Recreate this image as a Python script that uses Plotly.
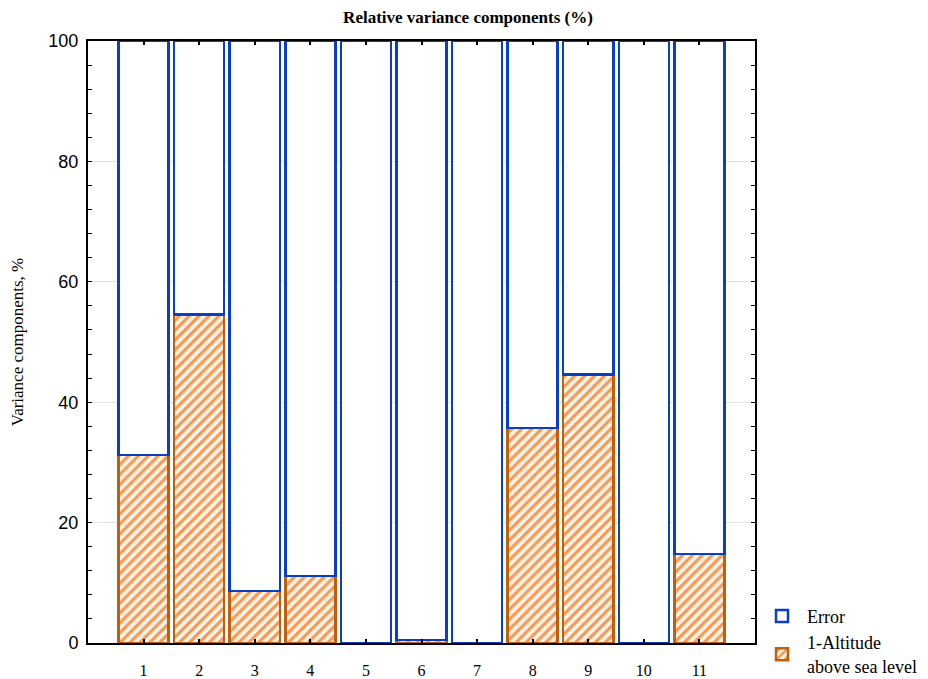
import plotly.graph_objects as go

categories = [1, 2, 3, 4, 5, 6, 7, 8, 9, 10, 11]
tick_labels = ["1", "2", "3", "4", "5", "6", "7", "8", "9", "10", "11"]
altitude = [31.2, 54.6, 8.6, 11.1, 0.0, 0.5, 0.0, 35.7, 44.6, 0.0, 14.8]
error = [100 - v for v in altitude]

BLUE = "#0A3FC4"
ORANGE = "#C0600E"

fig = go.Figure()
fig.add_trace(go.Bar(
    x=categories, y=altitude, name="1-Altitude<br>above sea level",
    width=0.9,
    marker=dict(color="#FDE6D2", line=dict(color=ORANGE, width=2.5),
                pattern=dict(shape="/", fgcolor="#F29A55", bgcolor="#FFF3E8",
                             size=7, solidity=0.45, fillmode="replace")),
))
fig.add_trace(go.Bar(
    x=categories, y=error, name="Error",
    width=0.9,
    marker=dict(color="white", line=dict(color=BLUE, width=2.5)),
))

fig.update_layout(
    barmode="stack",
    width=920, height=671,
    margin=dict(l=80, r=173, t=33, b=36, autoexpand=False),
    paper_bgcolor="white", plot_bgcolor="white",
    title=dict(text="<b>Relative variance components (%)</b>", x=0.5, xanchor="center",
               y=0.987, yanchor="middle", automargin=False,
               font=dict(family="Liberation Serif", size=17, color="black")),
    showlegend=True,
    legend=dict(x=1.003, xanchor="left", y=0.075, yanchor="top",
                traceorder="reversed",
                font=dict(family="Liberation Serif", size=18, color="black"),
                bgcolor="rgba(0,0,0,0)", itemwidth=40, tracegroupgap=2),
    bargap=0.1,
)
fig.update_xaxes(
    range=[0, 12], tickvals=categories, ticktext=tick_labels, automargin=False,
    showline=True, linecolor="black", linewidth=2, mirror="ticks",
    ticks="inside", ticklen=4, tickwidth=2, tickcolor="black",
    showgrid=False, zeroline=False,
    tickfont=dict(family="Liberation Serif", size=16, color="black"),
    ticklabelstandoff=12,
)
fig.update_yaxes(
    range=[0, 100], tickvals=[0, 20, 40, 60, 80, 100], automargin=False,
    showline=True, linecolor="black", linewidth=2, mirror="allticks",
    ticks="inside", ticklen=4, tickwidth=1, tickcolor="black",
    showgrid=True, gridcolor="#E3E3E3", gridwidth=1, zeroline=False,
    tickfont=dict(family="Liberation Sans", size=18, color="black"),
    minor=dict(tickvals=[v for v in range(0, 101, 4) if v % 20 != 0], ticks="inside",
               ticklen=4, tickcolor="black", tickwidth=1, showgrid=False),
    title=dict(text="Variance components, %", standoff=24,
               font=dict(family="Liberation Serif", size=17, color="black")),
    ticklabelstandoff=4,
)

fig.write_html("out.html")
